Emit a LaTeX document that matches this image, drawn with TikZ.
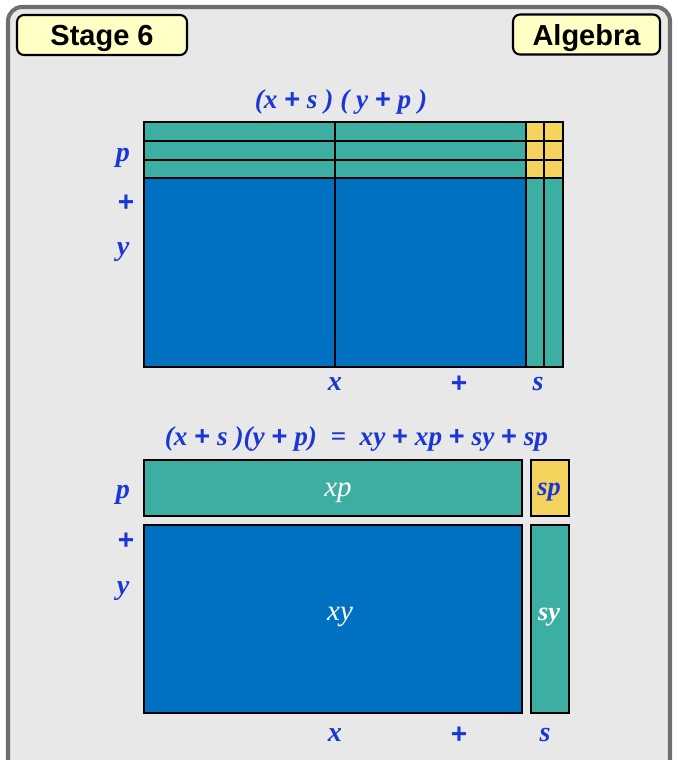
\documentclass[tikz,border=0pt]{standalone}
\usepackage{fontspec}
\setmainfont{Liberation Serif}
\newfontfamily\tagfont{Liberation Sans}
\definecolor{tileBlue}{HTML}{0070C0}
\definecolor{tileTeal}{HTML}{3DAEA2}
\definecolor{tileYellow}{HTML}{F5D45E}
\definecolor{symBlue}{HTML}{1A36D4}
\definecolor{frameGray}{HTML}{6E6E6E}
\definecolor{paperGray}{HTML}{E8E8E8}
\definecolor{tagYellow}{HTML}{FFFFC6}
\newcommand{\pl}{{\tagfont\bfseries\upshape +}}

\begin{document}
\begin{tikzpicture}[x=0.02cm, y=-0.02cm,
    tag/.style={rectangle, rounded corners=4pt, draw=black, line width=1.2pt,
                fill=tagYellow, minimum height=0.8cm, inner sep=0pt, text depth=0pt,
                font=\tagfont\bfseries\fontsize{16.5}{18}\selectfont},
    sym/.style={font=\bfseries\itshape\fontsize{16}{18}\selectfont, text=symBlue},
    formula/.style={font=\bfseries\itshape\fontsize{15.5}{17}\selectfont, text=symBlue},
    tile/.style={draw=black, line width=1.1pt, fill=#1},
    term/.style={font=\itshape\fontsize{16.5}{18}\selectfont, text=white},
  ]
  \useasboundingbox (0,0) rectangle (677,760);
  \clip (0,0) rectangle (677,760);
  \draw[frameGray, line width=2.3pt, fill=paperGray, rounded corners=8pt]
    (8,7) rectangle (670,790);

  % header tags
  \node[tag, minimum width=3.4cm] (stage) at (102,35) {Stage 6};
  \node[tag, minimum width=2.94cm] (topic) at (586.5,34.5) {Algebra};

  % top: strips and squares
  \node[formula] (eqtop) at (341,102) {(x \pl\ s ) ( y \pl\ p )};
  \fill[tileTeal] (144.3,122.3) rectangle (525.7,178.4);
  \fill[tileYellow] (525.7,122.3) rectangle (563.1,178.4);
  \fill[tileTeal] (525.7,178.4) rectangle (563.1,366.7);
  \fill[tileBlue] (144.3,178.4) rectangle (525.7,366.7);
  \begin{scope}[black, line width=1.1pt]
    \foreach \yy in {141,159.7,178.4}
      \draw (144.3,\yy) -- (563.1,\yy);
    \foreach \xx in {335,525.7,544.4}
      \draw (\xx,122.3) -- (\xx,366.7);
    \draw (144.3,122.3) rectangle (563.1,366.7);
  \end{scope}
  \node[sym] (tp) at (123,158) {p};
  \node[sym] (tplus) at (126,203) {\pl};
  \node[sym] (ty) at (123,252) {y};
  \node[sym] (tx) at (335,384) {x};
  \node[sym] (txplus) at (459,384) {\pl};
  \node[sym] (ts) at (538,384) {s};

  % bottom: grouped areas
  \node[formula] (eqbot) at (356.5,439)
    {(x \pl\ s )(y \pl\ p) \ = \ xy \pl\ xp \pl\ sy \pl\ sp};
  \draw[tile=tileTeal] (144.3,460) rectangle (522,516);
  \draw[tile=tileYellow] (530.7,460) rectangle (568.7,516);
  \draw[tile=tileBlue] (144.3,525) rectangle (522,713.3);
  \draw[tile=tileTeal] (530.7,525) rectangle (568.7,713.3);
  \node[term] (xp) at (338,493) {xp};
  \node[sym, font=\bfseries\itshape\fontsize{15}{17}\selectfont] (sp) at (549,492) {sp};
  \node[term] (xy) at (340,617) {xy};
  \node[sym, text=white, font=\bfseries\itshape\fontsize{15}{17}\selectfont] (sy) at (549,617) {sy};
  \node[sym] (bp) at (123,495) {p};
  \node[sym] (bplus) at (126,541) {\pl};
  \node[sym] (by) at (123,591) {y};
  \node[sym] (bx) at (335,735) {x};
  \node[sym] (bxplus) at (459,735) {\pl};
  \node[sym] (bs) at (545,735) {s};
\end{tikzpicture}
\end{document}
